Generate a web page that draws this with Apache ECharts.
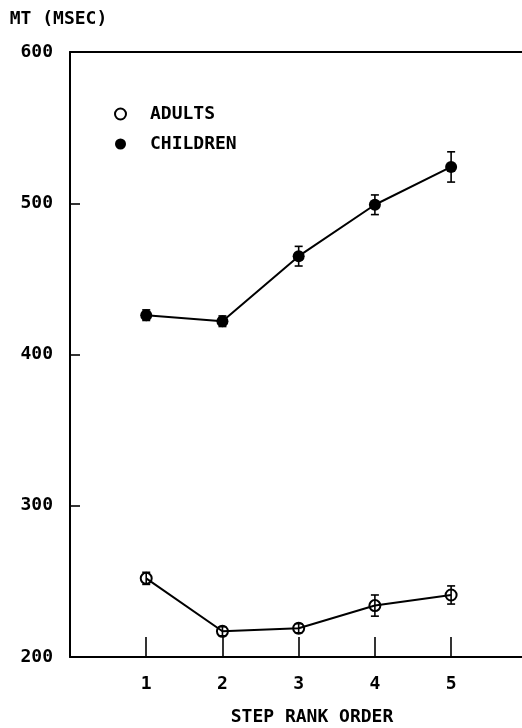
<!DOCTYPE html>
<html>
<head>
<meta charset="utf-8">
<script src="https://cdn.jsdelivr.net/npm/echarts@6/dist/echarts.min.js"></script>
<style>html,body{margin:0;padding:0;background:#fff}#c{width:522px;height:728px}</style>
</head>
<body>
<div id="c"></div>
<script>
const steps = [1, 2, 3, 4, 5];
const adultsMT = [252, 217, 219, 234, 241];
const adultsErr = [4, 3, 3, 7, 6];
const childrenMT = [426, 422, 465, 499, 524];
const childrenErr = [3.5, 3.5, 6.5, 6.5, 10];
const yTicks = [200, 300, 400, 500, 600];

const FONT = 'DejaVu Sans Mono';
const txt = {fontFamily: FONT, fontWeight: 'bold', fontSize: 18, color: '#000'};

function errData(means, errs) {
  return steps.map((s, i) => [s, means[i] - errs[i], means[i] + errs[i]]);
}
function renderErr(params, api) {
  const x = api.value(0);
  const lo = api.coord([x, api.value(1)]);
  const hi = api.coord([x, api.value(2)]);
  const w = 4;
  const st = {stroke: '#000', lineWidth: 1.6};
  return {type: 'group', children: [
    {type: 'line', shape: {x1: lo[0], y1: lo[1], x2: hi[0], y2: hi[1]}, style: st},
    {type: 'line', shape: {x1: lo[0]-w, y1: lo[1], x2: lo[0]+w, y2: lo[1]}, style: st},
    {type: 'line', shape: {x1: hi[0]-w, y1: hi[1], x2: hi[0]+w, y2: hi[1]}, style: st}
  ]};
}

const chart = echarts.init(document.getElementById('c'), null, {renderer: 'canvas'});
chart.setOption({
  animation: false,
  backgroundColor: '#fff',
  grid: {left: 70, right: 0, top: 52, bottom: 71, containLabel: false, outerBoundsMode: 'none'},
  legend: {
    orient: 'vertical', left: 109, top: 100, itemGap: 12,
    itemWidth: 11, itemHeight: 11,
    textStyle: Object.assign({}, txt, {padding: [0, 0, 0, 19]}),
    data: [
      {name: 'ADULTS', icon: 'circle', itemStyle: {color: '#fff', borderColor: '#000', borderWidth: 2}},
      {name: 'CHILDREN', icon: 'circle', itemStyle: {color: '#000', borderColor: '#000', borderWidth: 0}}
    ]
  },
  xAxis: [{
    type: 'value', min: 0, max: 5.93, interval: 1,
    name: 'STEP RANK ORDER', nameLocation: 'middle', nameGap: 51,
    nameTextStyle: Object.assign({}, txt, {padding: [0, 0, 0, 32]}),
    axisLine: {lineStyle: {color: '#000', width: 2}},
    axisTick: {inside: true, length: 20, customValues: steps, lineStyle: {color: '#000', width: 1.6}},
    axisLabel: Object.assign({}, txt, {margin: 18, customValues: steps}),
    splitLine: {show: false}
  }, {
    type: 'value', min: 0, max: 5.93, position: 'top',
    axisLine: {show: true, lineStyle: {color: '#000', width: 2}},
    axisTick: {show: false}, axisLabel: {show: false}, splitLine: {show: false}
  }],
  yAxis: {
    type: 'value', min: 200, max: 600, interval: 100,
    name: 'MT (MSEC)', nameLocation: 'end', nameGap: 24,
    nameTextStyle: Object.assign({}, txt, {padding: [0, 23, 0, 0]}),
    axisLine: {show: true, lineStyle: {color: '#000', width: 2}},
    axisTick: {inside: true, length: 10, customValues: yTicks, lineStyle: {color: '#000', width: 1.6}},
    axisLabel: Object.assign({}, txt, {margin: 17, customValues: yTicks}),
    splitLine: {show: false}
  },
  series: [
    {
      name: 'ADULTS', type: 'line', data: steps.map((s, i) => [s, adultsMT[i]]),
      symbol: 'circle', symbolSize: 11,
      itemStyle: {color: 'rgba(0,0,0,0)', borderColor: '#000', borderWidth: 2},
      lineStyle: {color: '#000', width: 2}, z: 3
    },
    {
      name: 'CHILDREN', type: 'line', data: steps.map((s, i) => [s, childrenMT[i]]),
      symbol: 'circle', symbolSize: 12,
      itemStyle: {color: '#000', borderWidth: 0},
      lineStyle: {color: '#000', width: 2}, z: 3
    },
    {type: 'custom', data: errData(adultsMT, adultsErr), renderItem: renderErr, z: 4, encode: {x: 0, y: [1, 2]}},
    {type: 'custom', data: errData(childrenMT, childrenErr), renderItem: renderErr, z: 4, encode: {x: 0, y: [1, 2]}}
  ]
});
</script>
</body>
</html>
